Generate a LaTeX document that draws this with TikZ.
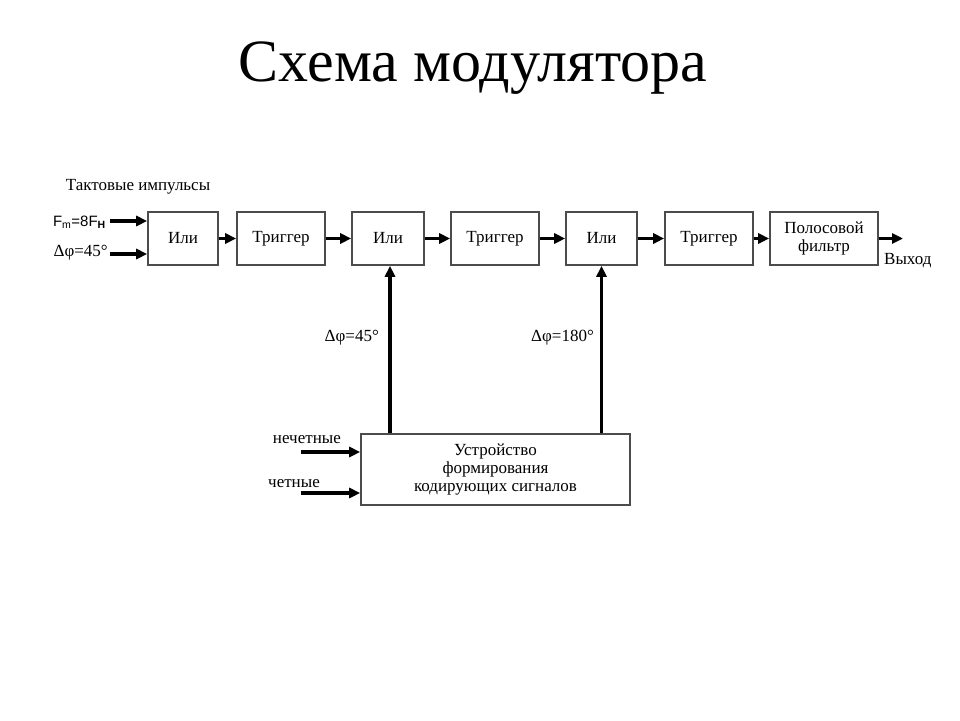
\documentclass[tikz,border=0pt]{standalone}
\usepackage{fontspec}
\setmainfont{Liberation Serif}
\newfontfamily\sansfont{Liberation Sans}
\usetikzlibrary{arrows.meta}

\tikzset{
  block/.style={draw=black!70, line width=1.6pt, minimum height=53pt, inner sep=0pt,
    align=center, font=\fontsize{17}{18}\selectfont},
  signal/.style={line width=3.2pt, -{Triangle[length=11pt,width=10pt]}},
  lbl/.style={inner sep=0pt, font=\fontsize{17}{18}\selectfont},
}

\begin{document}
\begin{tikzpicture}[x=1pt, y=-1pt]
  \useasboundingbox (0,0) rectangle (960,720);

  \node (title) at (473,68) {\fontsize{60}{70}\selectfont Схема модулятора};

  % chain of blocks
  \node[block, minimum width=70pt] (or1) at (183,238.5) {Или};
  \node[block, minimum width=88pt] (trig1) at (281,238.5) {Триггер};
  \node[block, minimum width=72pt] (or2) at (388,238.5) {Или};
  \node[block, minimum width=88pt] (trig2) at (495,238.5) {Триггер};
  \node[block, minimum width=71pt] (or3) at (601.5,238.5) {Или};
  \node[block, minimum width=88pt] (trig3) at (709,238.5) {Триггер};
  \node[block, minimum width=108pt] (filter) at (824,238.5) {Полосовой\\фильтр};
  \node[block, minimum width=269pt, minimum height=71pt] (coder) at (495.5,469.5)
    {Устройство\\формирования\\кодирующих сигналов};

  % labels
  \node[lbl] (clock) at (138,187) {Тактовые импульсы};
  \node[lbl, anchor=east, font=\fontsize{15}{16}\selectfont] (fm) at (106,222)
    {\sansfont F\textsubscript{m}=8F\textsubscript{\textbf{H}}};
  \node[lbl, anchor=east] (dphi1) at (108,253) {Δφ=45°};
  \node[lbl, anchor=east] (dphi2) at (379,338) {Δφ=45°};
  \node[lbl, anchor=east] (dphi3) at (594,338) {Δφ=180°};
  \node[lbl, anchor=west] (out) at (884,261) {Выход};
  \node[lbl, anchor=east] (odd) at (341,440) {нечетные};
  \node[lbl, anchor=east] (even) at (320,484) {четные};

  \coordinate (in1) at (110,221);
  \coordinate (in2) at (110,254);
  \coordinate (in3) at (301,452);
  \coordinate (in4) at (301,493);
  \coordinate (exit) at (903,238.5);

  % connectors
  \draw[signal] (in1) -- (in1 -| or1.west);
  \draw[signal] (in2) -- (in2 -| or1.west);
  \draw[signal] (or1) -- (trig1);
  \draw[signal] (trig1) -- (or2);
  \draw[signal] (or2) -- (trig2);
  \draw[signal] (trig2) -- (or3);
  \draw[signal] (or3) -- (trig3);
  \draw[signal] (trig3) -- (filter);
  \draw[signal] (filter) -- (exit);
  \draw[signal] (coder.north -| 390,0) -- (or2.south -| 390,0);
  \draw[signal] (coder.north -| or3) -- (or3.south);
  \draw[signal] (in3) -- (in3 -| coder.west);
  \draw[signal] (in4) -- (in4 -| coder.west);
\end{tikzpicture}
\end{document}
